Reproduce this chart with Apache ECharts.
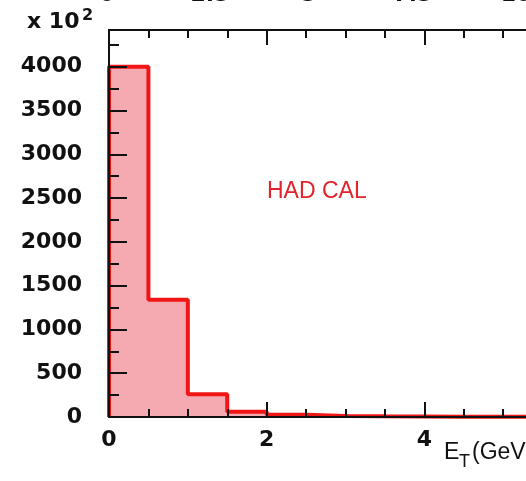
<!DOCTYPE html>
<html>
<head>
<meta charset="utf-8">
<script src="https://cdn.jsdelivr.net/npm/echarts@6/dist/echarts.min.js"></script>
<style>
html,body{margin:0;padding:0;background:#fff;}
#c{width:526px;height:481px;}
</style>
</head>
<body>
<div id="c"></div>
<script>
// Histogram data (bin width 0.5 GeV), counts in units of 10^2
var binEdges = [0, 0.5, 1, 1.5, 2, 2.5, 3, 3.5, 4, 4.5, 5, 5.5, 6];
var counts = [4000, 1340, 260, 60, 25, 12, 8, 6, 4, 3, 2, 2];
var yTickLabels = ['0','500','1000','1500','2000','2500','3000','3500','4000'];
var xTickLabels = ['0','2','4','6'];
var topCutLabels = ['0','2.5','5','7.5','10'];

var pts = [[binEdges[0], 0]];
for (var i = 0; i < counts.length; i++) pts.push([binEdges[i], counts[i]]);
pts.push([binEdges[counts.length], counts[counts.length - 1]]);

var chart = echarts.init(document.getElementById('c'), null, {renderer: 'canvas'});
var axisCol = '#111';
var lblFont = 'DejaVu Sans';

var topCutX = [107, 210, 309, 413, 516];
var topGraphics = topCutLabels.map(function (t, i) {
  return {type: 'text', x: topCutX[i], y: 6, z: 100,
    style: {text: t, fill: '#111', font: 'bold 22px "DejaVu Sans"', textAlign: 'center', textVerticalAlign: 'bottom'}};
});

function xAxisDef(pos, showLabel) {
  return {
    type: 'value', min: 0, max: 6, interval: 2, position: pos, z: 10,
    axisLine: {show: true, onZero: false, lineStyle: {color: axisCol, width: 2}},
    axisTick: {show: true, inside: true, length: 15, lineStyle: {color: axisCol, width: 2}},
    minorTick: {show: true, splitNumber: 4, length: 8, lineStyle: {color: axisCol, width: 2}},
    splitLine: {show: false},
    axisLabel: {show: showLabel, margin: 12, color: '#111', fontFamily: lblFont, fontWeight: 'bold', fontSize: 22,
      formatter: function (v) { var k = xTickLabels.indexOf(String(v)); return k >= 0 ? xTickLabels[k] : ''; }}
  };
}

chart.setOption({
  animation: false,
  backgroundColor: '#fff',
  grid: {left: 109, top: 30, width: 473, height: 387, outerBoundsMode: 'none', containLabel: false},
  xAxis: [xAxisDef('bottom', true), xAxisDef('top', false)],
  yAxis: [{
    type: 'value', min: 0, max: 4420, interval: 250, position: 'left', z: 10,
    axisLine: {show: true, onZero: false, lineStyle: {color: axisCol, width: 2}},
    axisTick: {show: true, inside: true, length: 10, lineStyle: {color: axisCol, width: 2}},
    splitLine: {show: false},
    axisLabel: {show: true, margin: 27, color: '#111', fontFamily: lblFont, fontWeight: 'bold', fontSize: 22,
      showMaxLabel: false,
      formatter: function (v) { var k = yTickLabels.indexOf(String(v)); return k >= 0 ? yTickLabels[k] : ''; }}
  }, {
    type: 'value', min: 0, max: 4420, interval: 500, position: 'left', z: 10,
    axisLine: {show: false, onZero: false},
    axisTick: {show: true, inside: true, length: 18, lineStyle: {color: axisCol, width: 2}},
    splitLine: {show: false},
    axisLabel: {show: false}
  }],
  series: [{
    type: 'line',
    xAxisIndex: 0, yAxisIndex: 0,
    step: 'end',
    data: pts,
    symbol: 'none',
    z: 2,
    lineStyle: {color: '#f01616', width: 4},
    areaStyle: {color: '#f5aab2', opacity: 1, origin: 0}
  }, {
    type: 'line', xAxisIndex: 1, yAxisIndex: 1, data: [], symbol: 'none', silent: true
  }],
  graphic: [
    {type: 'text', x: 27, y: 33, z: 100, style: {text: 'x 10', fill: '#111', font: 'bold 22px "DejaVu Sans"', textVerticalAlign: 'bottom'}},
    {type: 'text', x: 82, y: 24, z: 100, style: {text: '2', fill: '#111', font: 'bold 16px "DejaVu Sans"', textVerticalAlign: 'bottom'}},
    {type: 'text', x: 267, y: 203, z: 100, style: {text: 'HAD CAL', fill: '#e3222a', font: '23px "Liberation Sans"', textVerticalAlign: 'bottom'}},
    {type: 'text', x: 444, y: 464, z: 100, style: {text: 'E', fill: '#111', font: '23px "Liberation Sans"', textVerticalAlign: 'bottom'}},
    {type: 'text', x: 459, y: 471, z: 100, style: {text: 'T', fill: '#111', font: '18px "Liberation Sans"', textVerticalAlign: 'bottom'}},
    {type: 'text', x: 472, y: 464, z: 100, style: {text: '(GeV)', fill: '#111', font: '23px "Liberation Sans"', textVerticalAlign: 'bottom'}}
  ].concat(topGraphics)
});
</script>
</body>
</html>
